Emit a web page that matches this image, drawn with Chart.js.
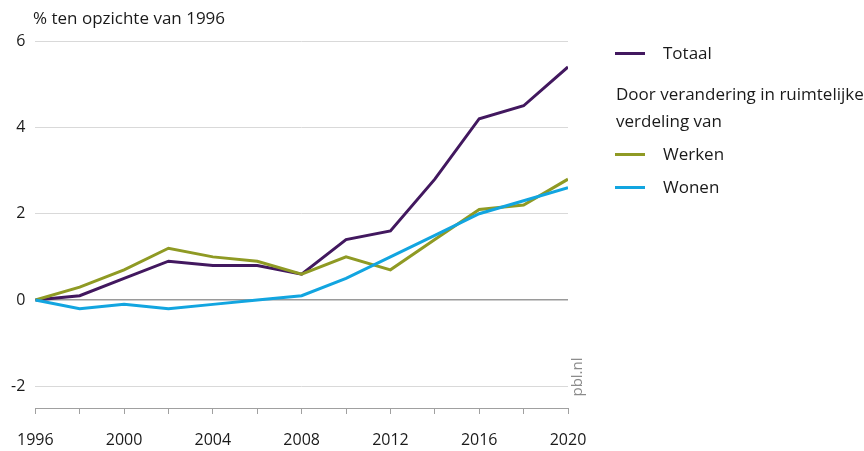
<!DOCTYPE html>
<html><head><meta charset="utf-8">
<script src="https://cdn.jsdelivr.net/npm/chart.js@4"></script>
<style>
html,body{margin:0;padding:0;background:#fff;}
#wrap{position:relative;width:864px;height:451px;overflow:hidden;font-family:"Open Sans",sans-serif;color:#1a1a1a;}
canvas{position:absolute;left:0;top:0;}
.t{position:absolute;font-size:17px;white-space:nowrap;line-height:20px;height:20px;}
.sw{position:absolute;width:30px;height:3px;}
#pbl{position:absolute;font-size:15px;color:#8a8a8a;line-height:16px;transform:rotate(-90deg);transform-origin:center center;white-space:nowrap;}
</style></head><body>
<div id="wrap">
<canvas id="c" width="864" height="451"></canvas>
<div class="t" style="left:33px;top:8px">% ten opzichte van 1996</div>
<div id="legend"></div>
<div id="pbl" style="left:546px;top:369px;width:60px;text-align:center">pbl.nl</div>
</div>
<script>
const years = [1996,1998,2000,2002,2004,2006,2008,2010,2012,2014,2016,2018,2020];
const totaal = [0,0.1,0.5,0.9,0.8,0.8,0.6,1.4,1.6,2.8,4.2,4.5,5.4];
const werken = [0,0.3,0.7,1.2,1.0,0.9,0.6,1.0,0.7,1.4,2.1,2.2,2.8];
const wonen  = [0,-0.2,-0.1,-0.2,-0.1,0,0.1,0.5,1.0,1.5,2.0,2.3,2.6];
const seriesNames = ["Totaal","Werken","Wonen"];
const seriesColors = ["#42185f","#8f9a24","#12a5e0"];
const yTicks = [-2,0,2,4,6];
const xLabelTicks = [1996,2000,2004,2008,2012,2016,2020];
const legendSubtitle = ["Door verandering in ruimtelijke","verdeling van"];

const seriesValues = [totaal, werken, wonen];

const lg = document.getElementById('legend');
function addText(txt, left, cy){
  const d=document.createElement('div'); d.className='t'; d.textContent=txt;
  d.style.left=left+'px'; d.style.top=(cy-10)+'px'; lg.appendChild(d);
}
function addSwatch(color, cy){
  const s=document.createElement('div'); s.className='sw'; s.style.background=color;
  s.style.left='615px'; s.style.top=(cy-1.5)+'px'; lg.appendChild(s);
}
addSwatch(seriesColors[0],53); addText(seriesNames[0],663,53);
addText(legendSubtitle[0],616,94); addText(legendSubtitle[1],616,121);
addSwatch(seriesColors[1],154); addText(seriesNames[1],663,154);
addSwatch(seriesColors[2],187); addText(seriesNames[2],663,187);

const datasets = seriesValues.map((vals,i)=>({
  label: seriesNames[i],
  data: years.map((y,j)=>({x:y,y:vals[j]})),
  borderColor: seriesColors[i],
  backgroundColor: seriesColors[i],
  borderWidth: 3,
  pointRadius: 0,
  tension: 0,
  fill: false
}));
datasets[0].order = 3; datasets[1].order = 2; datasets[2].order = 1;

new Chart(document.getElementById('c'), {
  type: 'line',
  data: { datasets },
  options: {
    responsive: false,
    animation: false,
    layout: { padding: { left: 0, top: 41, right: 296, bottom: 0 } },
    plugins: { legend: { display: false }, tooltip: { enabled: false }, title: {display:false} },
    scales: {
      x: {
        type: 'linear', min: 1996, max: 2020,
        afterFit: s => { s.height = 43; },
        ticks: {
          stepSize: 2, autoSkip: false, maxRotation: 0, padding: 17,
          color: '#1a1a1a', font: { family: '"Open Sans", sans-serif', size: 16 },
          callback: v => xLabelTicks.includes(v) ? String(v) : ''
        },
        grid: { drawOnChartArea: false, drawTicks: true, tickLength: 6, color: '#a0a0a0', lineWidth: 1 },
        border: { color: '#a0a0a0', width: 1 }
      },
      y: {
        min: -2.5, max: 6,
        afterBuildTicks: s => { s.ticks = yTicks.map(v => ({ value: v })); },
        afterFit: s => { s.width = 35; },
        ticks: {
          padding: 10, color: '#1a1a1a', font: { family: '"Open Sans", sans-serif', size: 16 },
          callback: v => String(v)
        },
        grid: { drawTicks: false, color: c => c.tick && c.tick.value === 0 ? '#9a9a9a' : '#d9d9d9', lineWidth: c => c.tick && c.tick.value === 0 ? 1.5 : 1 },
        border: { display: false }
      }
    }
  }
});
</script>
</body></html>
